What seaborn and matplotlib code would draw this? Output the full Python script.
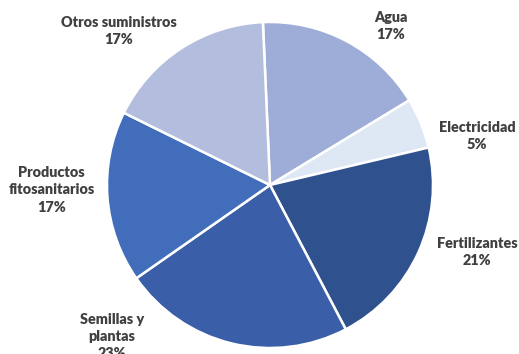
import matplotlib
matplotlib.use("Agg")
import matplotlib.pyplot as plt
import seaborn as sns

# datos del grafico
categorias = ["Agua", "Electricidad", "Fertilizantes", "Semillas y\nplantas",
              "Productos\nfitosanitarios", "Otros suministros"]
porcentajes = [17, 5, 21, 23, 17, 17]
colores = ["#9DADD7", "#DEE7F4", "#2F528F", "#3A5EA7", "#416DBB", "#B3BEDF"]

# posiciones de las etiquetas (unidades del radio)
pos_etiquetas = [(0.74, 0.975), (1.27, 0.30), (1.27, -0.41), (-0.97, -0.93),
                 (-1.34, -0.03), (-0.93, 0.945)]

sns.set_theme(style="white")
plt.rcParams["font.family"] = ["Lato", "DejaVu Sans"]

fig = plt.figure(figsize=(5.19, 3.54), dpi=100)
ax = fig.add_axes([0, 0, 1, 1])

ax.pie(porcentajes, colors=colores, startangle=92.5, counterclock=False,
       wedgeprops=dict(edgecolor="white", linewidth=1.8))

for cat, p, (x, y) in zip(categorias, porcentajes, pos_etiquetas):
    ax.text(x, y, f"{cat}\n{p}%", ha="center", va="center", fontsize=10.4,
            fontweight="heavy", color="#404040", linespacing=1.4)

# centro en (270,185) px, radio 163 px
ax.set_aspect("auto")
ax.set_xlim(-270 / 163, (519 - 270) / 163)
ax.set_ylim(-(354 - 185) / 163, 185 / 163)
ax.axis("off")

fig.savefig("out.png", dpi=100)
